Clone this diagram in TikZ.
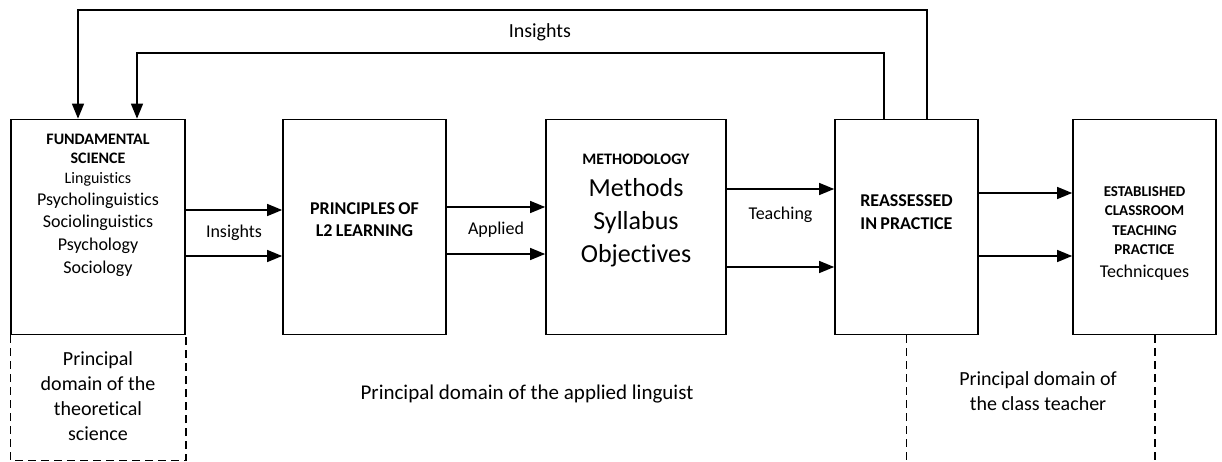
\documentclass[tikz,border=0pt]{standalone}
\usepackage{fontspec}
\setmainfont{Carlito}[Ligatures=NoCommon]
\usetikzlibrary{arrows.meta,positioning,calc}

\begin{document}
\begin{tikzpicture}[x=1pt,y=1pt,>={Triangle[length=15pt,width=12pt]},
                    box/.style={draw,line width=1.7pt,minimum width=#1,minimum height=215pt,inner sep=0pt},
                    boxtext/.style={anchor=north,inner sep=0pt,align=center,text width=#1},
                    flow/.style={->,line width=1.4pt},
                    dom/.style={dash pattern=on 8pt off 5pt,line width=1.3pt},
                    lbl/.style={anchor=base,inner sep=0pt,font=\fontsize{18}{22}\selectfont},
                    domtext/.style={anchor=north,inner sep=0pt,align=center,font=\fontsize{20}{25}\selectfont}]

  \useasboundingbox (0,0) rectangle (1222,461);

  \node [box=174pt] (fund) at (98,234) {};
  \node [box=163pt] (prin) at (364.5,234) {};
  \node [box=180pt] (meth) at (636,234) {};
  \node [box=143pt] (reas) at (906.5,234) {};
  \node [box=143pt] (esta) at (1144.5,234) {};

  \node [boxtext=170pt, below=15.7pt of fund.north] (fundtxt) {\fontsize{16}{19}\selectfont\bfseries FUNDAMENTAL\par SCIENCE\par
    \fontsize{16}{20}\selectfont\mdseries Linguistics\par
    \fontsize{18}{22}\selectfont Psycholinguistics\par Sociolinguistics\par
    \fontsize{18}{23}\selectfont Psychology\par Sociology\par};
  \node [boxtext=160pt, below=83.4pt of prin.north] (printxt) {\fontsize{18}{22}\selectfont\bfseries PRINCIPLES OF\par L2 LEARNING\par};
  \node [boxtext=176pt, below=34.7pt of meth.north] (methtxt) {\fontsize{16}{19}\selectfont\bfseries METHODOLOGY\par
    \fontsize{26}{32}\selectfont\mdseries Methods\par
    \fontsize{26}{33}\selectfont Syllabus\par Objectives\par};
  \node [boxtext=140pt, below=76pt of reas.north] (reastxt) {\fontsize{18}{23}\selectfont\bfseries REASSESSED\par IN PRACTICE\par};
  \node [boxtext=140pt, below=68pt of esta.north] (estatxt) {\fontsize{15}{19.3}\selectfont\bfseries ESTABLISHED\par CLASSROOM\par TEACHIN\textit{G}\par PRACTICE\par
    \fontsize{18}{22.5}\selectfont\mdseries Technicques\par};

  \path ([yshift=17pt]fund.east) edge [flow] ([yshift=17pt]prin.west);
  \path ([yshift=-29pt]fund.east) edge [flow] ([yshift=-29pt]prin.west);
  \path ([yshift=20pt]prin.east) edge [flow] ([yshift=20pt]meth.west);
  \path ([yshift=-27pt]prin.east) edge [flow] ([yshift=-27pt]meth.west);
  \path ([yshift=38pt]meth.east) edge [flow] ([yshift=38pt]reas.west);
  \path ([yshift=-40pt]meth.east) edge [flow] ([yshift=-40pt]reas.west);
  \path ([yshift=34pt]reas.east) edge [flow] ([yshift=34pt]esta.west);
  \path ([yshift=-29pt]reas.east) edge [flow] ([yshift=-29pt]esta.west);

  \node [lbl, yshift=-10pt] (ins) at ($(fund.east)!0.5!(prin.west)$) {Insights};
  \node [lbl, yshift=-8pt] (appl) at ($(prin.east)!0.5!(meth.west)$) {Applied};
  \node [lbl, yshift=7pt] (teach) at ($(meth.east)!0.5!(reas.west)$) {Teaching};

  % feedback from practice back to the science
  \draw [flow] ([xshift=20.5pt]reas.north) -- ++(0,108.5)
        -| node [pos=0.228, lbl, font=\fontsize{20}{24}\selectfont, yshift=-27pt] (insfb) {Insights} ([xshift=-20pt]fund.north);
  \draw [flow] ([xshift=-22.5pt]reas.north) -- ++(0,65.5) -| ([xshift=39pt]fund.north);

  % domains
  \draw [dom] (fund.south west) -- ++(0,-125) -| (fund.south east);
  \draw [dom] (reas.south) -- ++(0,-127);
  \draw [dom] ([xshift=10.5pt]esta.south) -- ++(0,-127);

  \node [domtext, below=16.5pt of fund.south] (domsci) {Principal\\domain of the\\theoretical\\science};
  \node [domtext, font=\fontsize{21}{25}\selectfont] (domapp) at (527,76.5) {Principal domain of the applied linguist};
  \node [domtext] (domtea) at (1038,89.5) {Principal domain of\\the class teacher};
\end{tikzpicture}
\end{document}
